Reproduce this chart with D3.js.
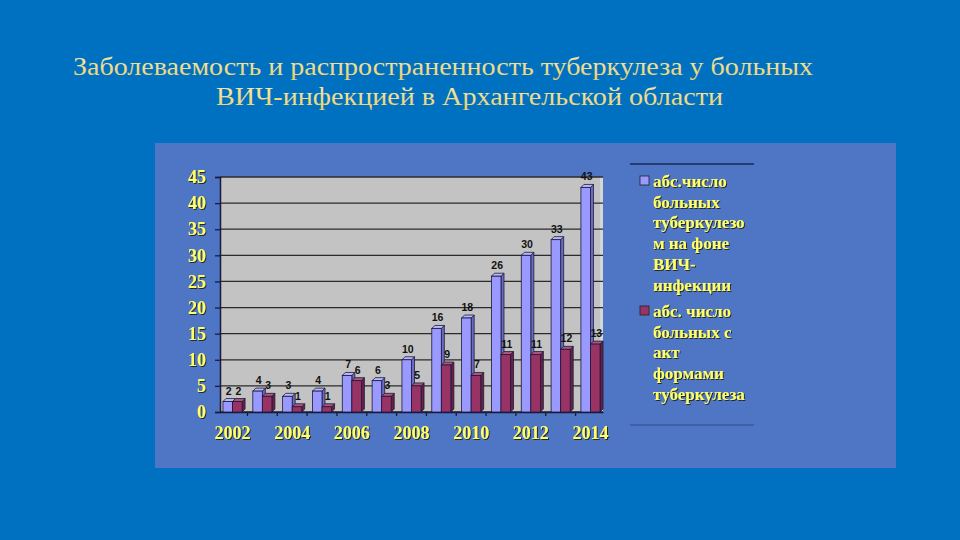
<!DOCTYPE html>
<html>
<head>
<meta charset="utf-8">
<script src="https://cdn.jsdelivr.net/npm/d3@7"></script>
<style>
  body { margin: 0; background: #0070c0; }
  svg { display: block; }
</style>
</head>
<body>
<div id="chart"></div>
<script>
// data
var years = ["2002", "2003", "2004", "2005", "2006", "2007", "2008",
             "2009", "2010", "2011", "2012", "2013", "2014"];
var hivTb = [2, 4, 3, 4, 7, 6, 10, 16, 18, 26, 30, 33, 43];
var activeTb = [2, 3, 1, 1, 6, 3, 5, 9, 7, 11, 11, 12, 13];
var yTicks = [0, 5, 10, 15, 20, 25, 30, 35, 40, 45];
var xLabels = ["2002", "2004", "2006", "2008", "2010", "2012", "2014"];
var titleLines = ["Заболеваемость и распространенность туберкулеза у больных",
                  "ВИЧ-инфекцией в Архангельской области"];
var legendHiv = ["абс.число", "больных", "туберкулезо", "м на фоне", "ВИЧ-", "инфекции"];
var legendActive = ["абс. число", "больных с", "акт", "формами", "туберкулеза"];

var W = 960, H = 540;
var plot = { left: 220, right: 603, top: 177, bottom: 412 };
var depth = 3;
var serif = "'Liberation Serif', 'DejaVu Serif Condensed', 'DejaVu Serif', serif";

var svg = d3.select("#chart").append("svg")
    .attr("width", W)
    .attr("height", H);

// shadow for the yellow labels
var defs = svg.append("defs");
defs.append("filter").attr("id", "shadow")
    .attr("x", "-20%").attr("y", "-20%").attr("width", "140%").attr("height", "140%")
    .append("feDropShadow")
    .attr("dx", 1).attr("dy", 1).attr("stdDeviation", 0.6)
    .attr("flood-color", "#1a1a1a").attr("flood-opacity", 0.9);

var grad = defs.append("linearGradient").attr("id", "titleFill")
    .attr("x1", 0).attr("x2", 0).attr("y1", 0).attr("y2", 1);
grad.append("stop").attr("offset", "0%").attr("stop-color", "#f8ecb0");
grad.append("stop").attr("offset", "100%").attr("stop-color", "#e8cf6c");

svg.append("rect").attr("width", W).attr("height", H).attr("fill", "#0070c0");

// title, stretched to the width it has on the slide
var titlePos = [{ x: 73, w: 740 }, { x: 216, w: 507 }];
svg.append("g")
    .selectAll("text")
    .data(titleLines)
    .enter().append("text")
    .attr("x", function (d, i) { return titlePos[i].x; })
    .attr("y", function (d, i) { return 75 + i * 30; })
    .attr("font-family", serif)
    .attr("font-size", 26)
    .attr("fill", "url(#titleFill)")
    .attr("textLength", function (d, i) { return titlePos[i].w; })
    .attr("lengthAdjust", "spacingAndGlyphs")
    .text(function (d) { return d; });

// chart panel
svg.append("rect")
    .attr("x", 155).attr("y", 143)
    .attr("width", 741).attr("height", 325)
    .attr("fill", "#4f75c5");

// scales
var x = d3.scaleBand()
    .domain(years)
    .range([plot.left, plot.right])
    .paddingInner(0.36)
    .paddingOuter(0.1);
var xs = d3.scaleBand()
    .domain([0, 1])
    .range([0, x.bandwidth()]);
var y = d3.scaleLinear()
    .domain([0, 45])
    .range([plot.bottom, plot.top]);

// back wall
svg.append("rect")
    .attr("x", plot.left).attr("y", plot.top)
    .attr("width", plot.right - plot.left).attr("height", plot.bottom - plot.top)
    .attr("fill", "#c3c3c3");
svg.append("rect")
    .attr("x", plot.right - 3).attr("y", plot.top)
    .attr("width", 3).attr("height", plot.bottom - plot.top)
    .attr("fill", "#d6d6d6");

// gridlines
svg.append("g")
    .selectAll("line")
    .data(yTicks)
    .enter().append("line")
    .attr("x1", plot.left).attr("x2", plot.right)
    .attr("y1", function (d) { return y(d); })
    .attr("y2", function (d) { return y(d); })
    .attr("stroke", "#2b2b2b")
    .attr("stroke-width", 1.3);

// y axis
var yAxis = svg.append("g")
    .attr("transform", "translate(" + plot.left + ",0)")
    .call(d3.axisLeft(y).tickValues(yTicks).tickSize(5).tickPadding(9));
yAxis.select(".domain").attr("stroke", "#1a1a3a").attr("stroke-width", 1.5);
yAxis.selectAll(".tick line").attr("stroke", "#1a1a3a").attr("stroke-width", 1.3);
yAxis.selectAll("text")
    .attr("font-family", serif)
    .attr("font-weight", "bold")
    .attr("font-size", 18)
    .attr("fill", "#ffff66")
    .attr("filter", "url(#shadow)");

// x axis (labels on every second year)
var xAxis = svg.append("g")
    .attr("transform", "translate(0," + plot.bottom + ")")
    .call(d3.axisBottom(x).tickValues(xLabels).tickSize(0).tickPadding(14));
xAxis.select(".domain").attr("stroke", "#1a1a3a").attr("stroke-width", 1.5);
xAxis.selectAll("text")
    .attr("font-family", serif)
    .attr("font-weight", "bold")
    .attr("font-size", 18)
    .attr("fill", "#ffff66")
    .attr("filter", "url(#shadow)");

// small ticks between categories
svg.append("g")
    .selectAll("line")
    .data(years.slice(0, years.length - 1))
    .enter().append("line")
    .attr("x1", function (d) { return x(d) + x.bandwidth() + x.step() * x.paddingInner() / 2; })
    .attr("x2", function (d) { return x(d) + x.bandwidth() + x.step() * x.paddingInner() / 2; })
    .attr("y1", plot.bottom)
    .attr("y2", plot.bottom + 4)
    .attr("stroke", "#1a1a3a")
    .attr("stroke-width", 1.3);

// 3d bars
var series = [
    { values: hivTb, front: "#9999ff", top: "#b8b8ff", side: "#6b6bc4" },
    { values: activeTb, front: "#993366", top: "#b0557f", side: "#6a1f44" }
];

series.forEach(function (s, si) {
    var g = svg.append("g");
    var bars = g.selectAll("g.bar")
        .data(years)
        .enter().append("g")
        .attr("class", "bar");

    function bx(d) { return x(d) + xs(si); }
    function val(d, i) { return s.values[i]; }

    // side face
    bars.append("path")
        .attr("d", function (d, i) {
            var x1 = bx(d) + xs.bandwidth(), yt = y(val(d, i)), yb = y(0);
            return "M" + x1 + "," + yt + "L" + (x1 + depth) + "," + (yt - depth) +
                "L" + (x1 + depth) + "," + (yb - depth) + "L" + x1 + "," + yb + "Z";
        })
        .attr("fill", s.side)
        .attr("stroke", "#1a1a3a").attr("stroke-width", 0.8);
    // top face
    bars.append("path")
        .attr("d", function (d, i) {
            var x0 = bx(d), x1 = x0 + xs.bandwidth(), yt = y(val(d, i));
            return "M" + x0 + "," + yt + "L" + (x0 + depth) + "," + (yt - depth) +
                "L" + (x1 + depth) + "," + (yt - depth) + "L" + x1 + "," + yt + "Z";
        })
        .attr("fill", s.top)
        .attr("stroke", "#1a1a3a").attr("stroke-width", 0.8);
    // front face
    bars.append("rect")
        .attr("x", bx)
        .attr("y", function (d, i) { return y(val(d, i)); })
        .attr("width", xs.bandwidth())
        .attr("height", function (d, i) { return y(0) - y(val(d, i)); })
        .attr("fill", s.front)
        .attr("stroke", "#1a1a3a").attr("stroke-width", 0.8);
    // value label
    bars.append("text")
        .attr("x", function (d) { return bx(d) + xs.bandwidth() / 2 + 1; })
        .attr("y", function (d, i) { return y(val(d, i)) - depth - 4; })
        .attr("text-anchor", "middle")
        .attr("font-family", "'Liberation Sans', Arial, sans-serif")
        .attr("font-weight", "bold")
        .attr("font-size", 10.5)
        .attr("fill", "#111")
        .text(function (d, i) { return val(d, i); });
});

// legend
var legend = svg.append("g")
    .attr("font-family", serif)
    .attr("font-weight", "bold")
    .attr("font-size", 17)
    .attr("fill", "#ffff66");

legend.append("line")
    .attr("x1", 630).attr("x2", 754).attr("y1", 164).attr("y2", 164)
    .attr("stroke", "#1a2a55").attr("stroke-width", 1.3);
legend.append("line")
    .attr("x1", 630).attr("x2", 754).attr("y1", 425).attr("y2", 425)
    .attr("stroke", "#3a5a9a").attr("stroke-width", 1.3);

var entries = [
    { lines: legendHiv, color: series[0].front, y0: 187 },
    { lines: legendActive, color: series[1].front, y0: 317 }
];
var legendTexts = [];
entries.forEach(function (e) {
    legend.append("rect")
        .attr("x", 640).attr("y", e.y0 - 11)
        .attr("width", 9).attr("height", 9)
        .attr("fill", e.color)
        .attr("stroke", "#222").attr("stroke-width", 0.8);
    var t = legend.append("text")
        .attr("filter", "url(#shadow)");
    t.selectAll("tspan")
        .data(e.lines)
        .enter().append("tspan")
        .attr("x", 653)
        .attr("y", function (d, i) { return e.y0 + i * 20.7; })
        .text(function (d) { return d; });
    legendTexts.push(t);
});

// the widest legend line is about 97px on the slide; squeeze to fit the font we have
var widest = d3.max(legendTexts, function (t) { return t.node().getBBox().width; });
var k = Math.min(1, 97 / widest);
legendTexts.forEach(function (t) {
    t.attr("transform", "translate(653,0) scale(" + k + ",1) translate(-653,0)");
});
</script>
</body>
</html>
